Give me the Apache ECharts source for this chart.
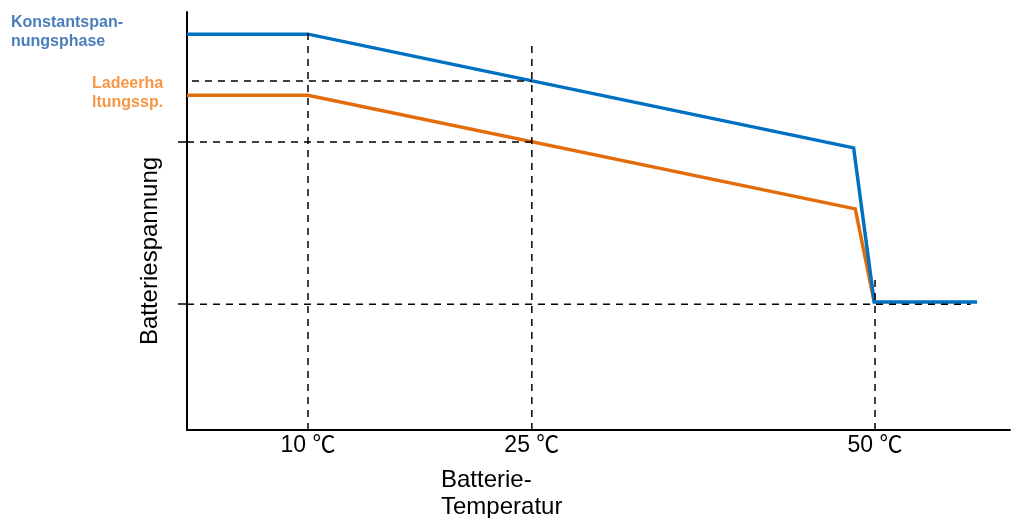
<!DOCTYPE html>
<html>
<head>
<meta charset="utf-8">
<script src="https://cdn.jsdelivr.net/npm/echarts@6/dist/echarts.min.js"></script>
<style>
  html, body { margin: 0; padding: 0; background: #fff; }
  #chart { width: 1014px; height: 518px; }
</style>
</head>
<body>
<div id="chart"></div>
<script>
// schematic axis: x and y both run 0..100, temperatures sit at fixed positions
const tempPos = [14.7, 41.9, 83.6]
const tempLabels = ['10 ℃', '25 ℃', '50 ℃']

// Konstantspannungsphase (blue)
const cvX = [0, 14.7, 81.0, 83.5, 96.0]
const cvY = [94.7, 94.7, 67.5, 30.6, 30.6]
// Ladeerhaltungsspannung (orange)
const ccX = [0, 14.7, 81.2, 83.5]
const ccY = [80.1, 80.1, 52.9, 30.6]

// reference ticks on the voltage axis
const voltTicks = [30.1, 68.9]

// dashed guides: [x1, y1, x2, y2]
const guides = [
  [0.6, 83.5, 41.9, 83.5],
  [0, 68.9, 41.9, 68.9],
  [0, 30.1, 95.2, 30.1],
  [14.7, 0, 14.7, 96.2],
  [41.9, 0, 41.9, 92.8],
  [83.6, 0, 83.6, 36.6]
]

const FONT = "'Liberation Sans', Arial, 'Noto Sans CJK SC', sans-serif"

const chart = echarts.init(document.getElementById('chart'))

const zip = (xs, ys) => xs.map((x, i) => [x, ys[i]])

const guideSeries = guides.map(g => ({
  type: 'line',
  data: [[g[0], g[1]], [g[2], g[3]]],
  symbol: 'none',
  silent: true,
  z: 5,
  lineStyle: { color: '#000', width: 1.5, type: [7, 6] }
}))

const option = {
  animation: false,
  backgroundColor: '#fff',
  grid: { left: 187, right: 4, top: 12, bottom: 88 },
  xAxis: {
    type: 'value',
    min: 0,
    max: 100,
    axisLine: { lineStyle: { color: '#000', width: 2 } },
    axisTick: { show: false },
    splitLine: { show: false },
    axisLabel: {
      customValues: tempPos,
      formatter: v => tempLabels[tempPos.indexOf(v)] || '',
      color: '#000',
      fontSize: 23,
      fontFamily: FONT,
      margin: 4
    }
  },
  yAxis: {
    type: 'value',
    min: 0,
    max: 100,
    axisLine: { show: true, lineStyle: { color: '#000', width: 2 } },
    axisTick: {
      show: true,
      customValues: voltTicks,
      length: 9,
      lineStyle: { color: '#000', width: 1.5 }
    },
    splitLine: { show: false },
    axisLabel: { show: false }
  },
  graphic: [
    {
      type: 'text',
      left: 11,
      top: 13,
      style: {
        text: 'Konstantspan-\nnungsphase',
        fill: '#4a7ebb',
        font: 'bold 16px ' + FONT,
        lineHeight: 19
      }
    },
    {
      type: 'text',
      left: 92,
      top: 74,
      style: {
        text: 'Ladeerha\nltungssp.',
        fill: '#f79646',
        font: 'bold 16px ' + FONT,
        lineHeight: 19
      }
    },
    {
      type: 'text',
      x: 150,
      y: 251,
      rotation: Math.PI / 2,
      style: {
        text: 'Batteriespannung',
        fill: '#000',
        font: '24px ' + FONT,
        align: 'center',
        verticalAlign: 'middle'
      }
    },
    {
      type: 'text',
      left: 441,
      top: 467,
      style: {
        text: 'Batterie-\nTemperatur',
        fill: '#000',
        font: '24px ' + FONT,
        lineHeight: 27
      }
    }
  ],
  series: [
    {
      name: 'Ladeerhaltungsspannung',
      type: 'line',
      data: zip(ccX, ccY),
      symbol: 'none',
      z: 3,
      lineStyle: { color: '#e36c0a', width: 3.5, join: 'miter' }
    },
    {
      name: 'Konstantspannungsphase',
      type: 'line',
      data: zip(cvX, cvY),
      symbol: 'none',
      z: 4,
      lineStyle: { color: '#0070c0', width: 3.5, join: 'miter' }
    }
  ].concat(guideSeries)
}

chart.setOption(option)
</script>
</body>
</html>
